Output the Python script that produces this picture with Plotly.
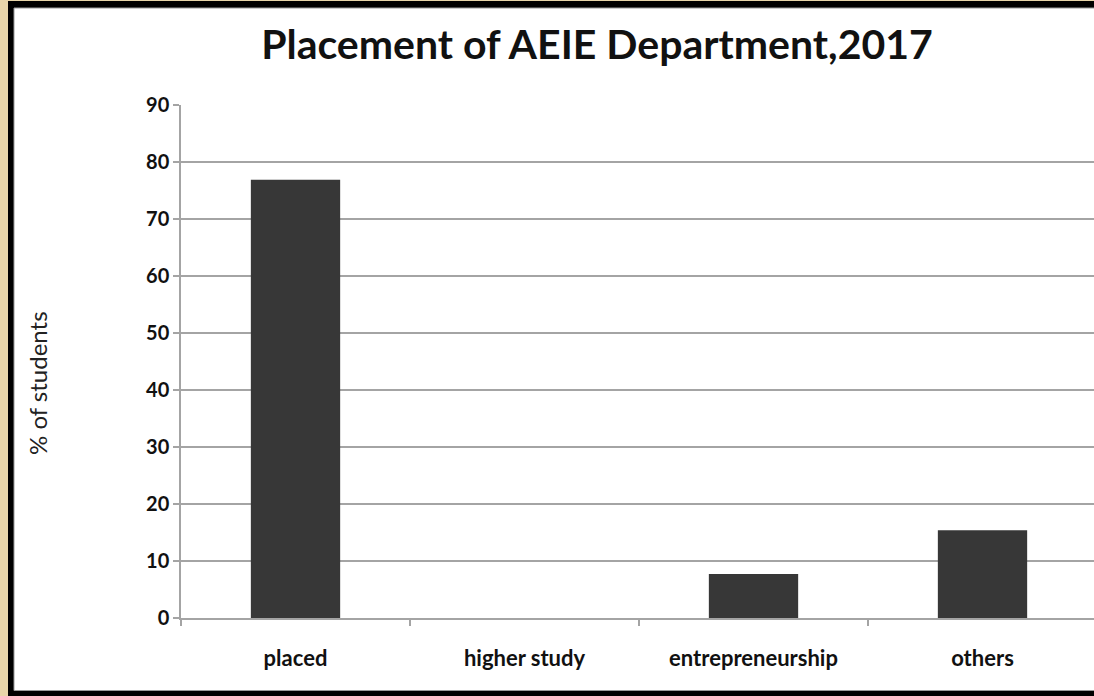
import plotly.graph_objects as go

categories = ["placed", "higher study", "entrepreneurship", "others"]
values = [76.9, 0, 7.7, 15.4]
y_ticks = [0, 10, 20, 30, 40, 50, 60, 70, 80, 90]

W, H = 1094, 696
L, R, T, B = 181, 0, 105, 78
PW = W - L - R
PH = H - T - B

def xp(px):
    return (px - L) / PW

def yp(py):
    return (H - B - py) / PH

fig = go.Figure()
fig.add_trace(go.Bar(
    x=categories, y=values,
    width=0.39,
    marker=dict(color="#373737", line=dict(width=0)),
    hoverinfo="x+y",
))

shapes = [
    # black frame
    dict(type="rect", xref="paper", yref="paper", x0=xp(8), x1=xp(1110), y0=yp(1), y1=yp(710),
         fillcolor="#000000", line=dict(width=0), layer="below"),
    # white card
    dict(type="rect", xref="paper", yref="paper", x0=xp(14), x1=xp(1110), y0=yp(8), y1=yp(690.5),
         fillcolor="#ffffff", line=dict(color="#9a9a9a", width=1), layer="below"),
]

annotations = [
    dict(text="% of students", xref="paper", yref="paper", x=xp(37), y=yp(383),
         xanchor="center", yanchor="middle", textangle=-90, showarrow=False,
         font=dict(family="Lato", size=24, color="#222222")),
]

fig.update_layout(
    width=W, height=H,
    margin=dict(l=L, r=R, t=T, b=B, pad=0),
    paper_bgcolor="#e8d5a9",
    plot_bgcolor="#ffffff",
    shapes=shapes,
    annotations=annotations,
    showlegend=False,
    title=dict(
        text="Placement of AEIE Department,2017",
        x=xp(597), xref="paper", xanchor="center",
        y=1 - 45 / H, yref="container", yanchor="middle",
        font=dict(family="Lato", size=41, color="#111111", weight="bold"),
    ),
    xaxis=dict(
        range=[-0.5, -0.5 + PW / 229],
        showgrid=False,
        showline=True, linecolor="#a4a4a4", linewidth=1.5,
        ticks="outside", tickson="boundaries", ticklen=6, tickcolor="#a4a4a4", tickwidth=1.5,
        ticklabelstandoff=20,
        tickfont=dict(family="Lato", size=22, color="#111111", weight="bold"),
        fixedrange=True,
    ),
    yaxis=dict(
        range=[0, 90],
        tickvals=y_ticks,
        showgrid=True, gridcolor="#a4a4a4", gridwidth=1.5,
        showline=True, linecolor="#a4a4a4", linewidth=1.5,
        ticks="outside", ticklen=6, tickcolor="#a4a4a4", tickwidth=1.5,
        zeroline=False,
        tickfont=dict(family="Lato", size=20, color="#111111", weight="bold"),
        fixedrange=True,
    ),
    bargap=0.6,
)

fig.write_html(
    "out.html",
    config={"displayModeBar": False},
    post_script="document.body.style.margin='0';document.body.style.overflow='hidden';",
)
